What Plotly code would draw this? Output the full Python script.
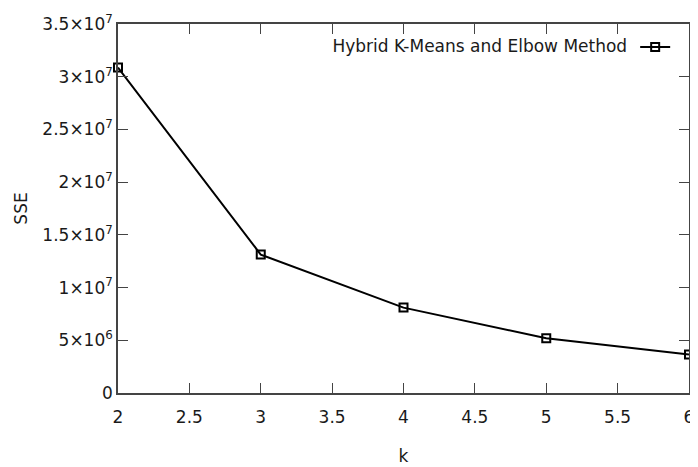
import plotly.graph_objects as go

k_values = [2, 3, 4, 5, 6]
sse_values = [30.87e6, 13.13e6, 8.1e6, 5.2e6, 3.66e6]
series_name = "Hybrid K-Means and Elbow Method"

y_tick_vals = [0, 5e6, 1e7, 1.5e7, 2e7, 2.5e7, 3e7, 3.5e7]
y_tick_text = ["0", "5×10<sup>6</sup>", "1×10<sup>7</sup>", "1.5×10<sup>7</sup>",
               "2×10<sup>7</sup>", "2.5×10<sup>7</sup>", "3×10<sup>7</sup>", "3.5×10<sup>7</sup>"]
x_tick_vals = [2, 2.5, 3, 3.5, 4, 4.5, 5, 5.5, 6]
x_tick_text = ["2", "2.5", "3", "3.5", "4", "4.5", "5", "5.5", "6"]

font_family = "DejaVu Sans"
axis_color = "#444444"

fig = go.Figure()
fig.add_trace(go.Scatter(
    x=k_values, y=sse_values, mode="lines+markers", name="",
    line=dict(color="black", width=2),
    marker=dict(symbol="square-open", size=8, color="black", line=dict(width=2, color="black")),
    cliponaxis=False,
    showlegend=True,
))

axis_common = dict(
    showgrid=False, zeroline=False, showline=True, linecolor=axis_color, linewidth=1.5,
    mirror="ticks", ticks="inside", ticklen=10, tickwidth=1.2, tickcolor=axis_color,
    tickfont=dict(family=font_family, size=17, color="#1a1a1a"),
)

fig.update_layout(
    width=690, height=459,
    margin=dict(l=110, r=4, t=14, b=74),
    paper_bgcolor="white", plot_bgcolor="white",
    font=dict(family=font_family, size=17, color="#1a1a1a"),
    xaxis=dict(range=[2, 6], tickvals=x_tick_vals, ticktext=x_tick_text,
               ticklabelstandoff=8,
               title=dict(text="k", standoff=24, font=dict(size=17)), **axis_common),
    yaxis=dict(range=[0, 3.5e7 + 2e3], tickvals=y_tick_vals, ticktext=y_tick_text,
               title=dict(text="SSE", standoff=10, font=dict(size=17)), **axis_common),
    legend=dict(
        x=0.985, y=0.985, xanchor="right", yanchor="top",
        bgcolor="rgba(0,0,0,0)", borderwidth=0,
        title=dict(text=series_name, side="left", font=dict(size=17)),
        font=dict(size=17),
        itemwidth=30,
    ),
)

fig.write_html("out.html")
